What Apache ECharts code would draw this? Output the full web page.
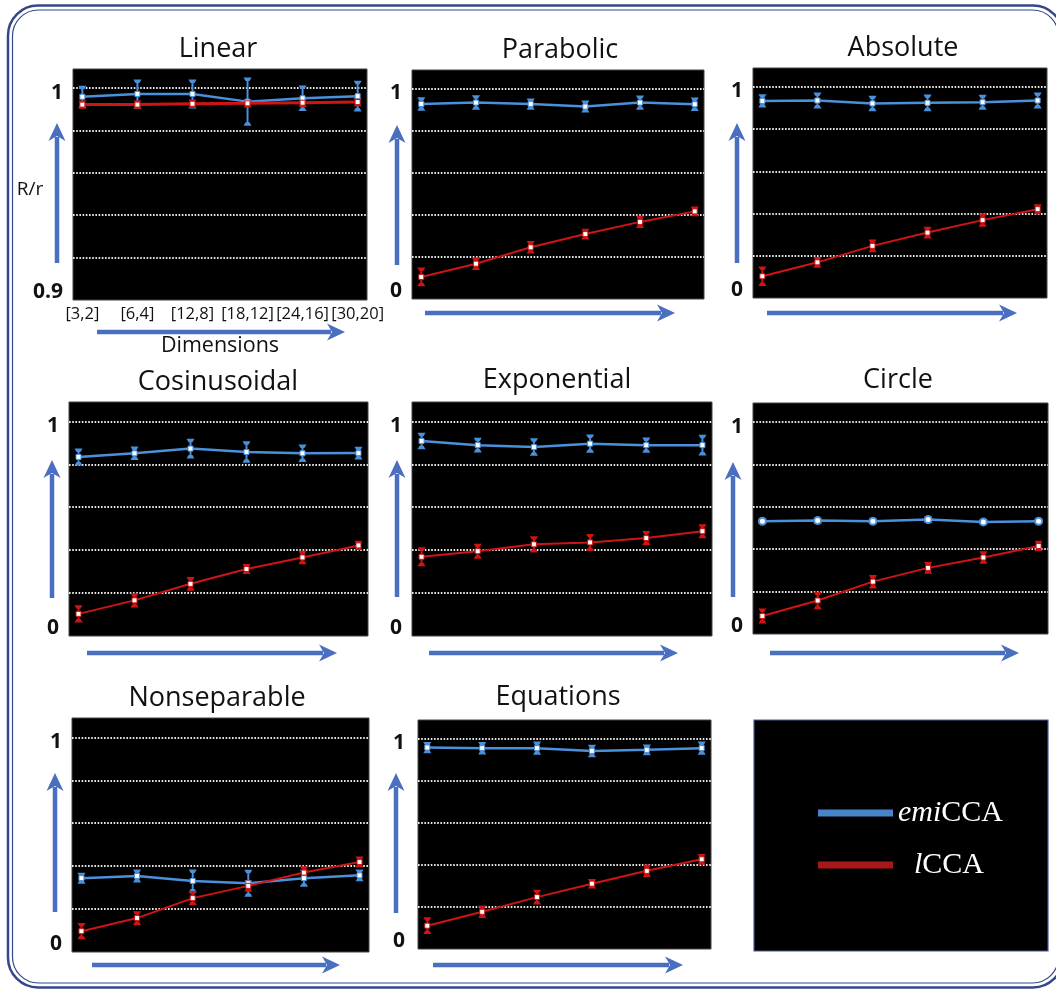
<!DOCTYPE html>
<html>
<head>
<meta charset="utf-8">
<title>emiCCA vs lCCA</title>
<script src="https://cdn.jsdelivr.net/npm/echarts@6/dist/echarts.min.js"></script>
<style>
  html, body { margin: 0; padding: 0; background: #fff; }
  #chart { width: 1056px; height: 990px; }
</style>
</head>
<body>
<div id="chart"></div>
<script>
// panel titles and x categories
var titles = ['Linear', 'Parabolic', 'Absolute', 'Cosinusoidal', 'Exponential', 'Circle', 'Nonseparable', 'Equations'];
var dims = ['[3,2]', '[6,4]', '[12,8]', '[18,12]', '[24,16]', '[30,20]'];
// lowest tick of each panel (Linear is zoomed 0.9 - 1)
var yLow = [0.9, 0, 0, 0, 0, 0, 0, 0];

// emiCCA mean / error
var emiMean = [
  [0.9959, 0.9972, 0.9972, 0.9936, 0.9952, 0.9962],
  [0.928, 0.935, 0.928, 0.916, 0.935, 0.927],
  [0.934, 0.936, 0.922, 0.925, 0.928, 0.936],
  [0.834, 0.851, 0.873, 0.857, 0.851, 0.852],
  [0.908, 0.889, 0.880, 0.896, 0.889, 0.889],
  [0.532, 0.535, 0.532, 0.540, 0.529, 0.532],
  [0.344, 0.354, 0.331, 0.320, 0.344, 0.357],
  [0.959, 0.956, 0.956, 0.943, 0.948, 0.956]
];
var emiErr = [
  [0.0047, 0.0064, 0.0064, 0.0109, 0.0056, 0.0068],
  [0.027, 0.030, 0.022, 0.024, 0.029, 0.027],
  [0.027, 0.033, 0.032, 0.035, 0.031, 0.033],
  [0.035, 0.027, 0.041, 0.045, 0.036, 0.025],
  [0.034, 0.030, 0.036, 0.038, 0.031, 0.044],
  [0.008, 0.009, 0.008, 0.010, 0.009, 0.008],
  [0.021, 0.026, 0.049, 0.058, 0.035, 0.023],
  [0.022, 0.025, 0.027, 0.025, 0.021, 0.027]
];
// lCCA mean / error
var lMean = [
  [0.9922, 0.9922, 0.9926, 0.9928, 0.9931, 0.9934],
  [0.105, 0.168, 0.246, 0.309, 0.367, 0.417],
  [0.103, 0.169, 0.247, 0.310, 0.369, 0.421],
  [0.103, 0.166, 0.243, 0.312, 0.366, 0.422],
  [0.369, 0.395, 0.427, 0.436, 0.456, 0.488],
  [0.085, 0.158, 0.247, 0.312, 0.361, 0.415],
  [0.097, 0.158, 0.251, 0.308, 0.370, 0.419],
  [0.111, 0.177, 0.247, 0.311, 0.372, 0.427]
];
var lErr = [
  [0.0015, 0.0015, 0.0015, 0.0015, 0.0015, 0.0015],
  [0.040, 0.025, 0.025, 0.021, 0.024, 0.018],
  [0.041, 0.021, 0.026, 0.023, 0.027, 0.019],
  [0.035, 0.029, 0.027, 0.019, 0.027, 0.017],
  [0.040, 0.030, 0.033, 0.035, 0.028, 0.028],
  [0.031, 0.037, 0.027, 0.023, 0.025, 0.020],
  [0.033, 0.027, 0.029, 0.023, 0.025, 0.021],
  [0.035, 0.025, 0.030, 0.018, 0.025, 0.021]
];

// layout: black boxes [left, top, width, height]
var boxes = [
  [73, 69, 294, 231], [412, 70, 292, 229], [753, 68, 294, 230],
  [69, 402, 299, 234], [412, 402, 300, 234], [753, 403, 295, 231],
  [72, 718, 297, 234], [418, 720, 293, 229]
];
var titlePos = [[218, 49], [560, 50], [903, 48], [218, 382], [557, 380], [898, 380], [217, 698], [558, 697]];
// [vx, vTip, vBase, hy, hx0, hxTip]
var arrowPos = [
  [57, 123, 263, 332, 97, 345], [397, 125, 265, 313, 425, 675], [737, 123, 263, 313, 767, 1017],
  [52, 460, 598, 653, 87, 337], [397, 460, 597, 653, 429, 678], [733, 462, 597, 653, 770, 1019],
  [55, 773, 912, 965, 92, 340], [396, 773, 913, 965, 433, 683]
];

var BLUE = '#4a90da', RED = '#d01414', ARROW = '#4a6fc0', FRAME = '#34478a';
var FONT = "'Open Sans', 'Liberation Sans', sans-serif";

function errRender(color) {
  return function (params, api) {
    var x = api.value(0), y = api.value(1), e = api.value(2);
    var hi = api.coord([x, y + e]);
    var lo = api.coord([x, y - e]);
    var cx = hi[0];
    return {
      type: 'group',
      children: [
        { type: 'line', shape: { x1: cx, y1: hi[1], x2: cx, y2: lo[1] }, style: { stroke: color, lineWidth: 2 } },
        { type: 'polygon', shape: { points: [[cx - 4, hi[1] - 1], [cx + 4, hi[1] - 1], [cx + 2, hi[1] + 2.5], [cx - 2, hi[1] + 2.5]] }, style: { fill: color } },
        { type: 'polygon', shape: { points: [[cx - 4, lo[1] + 1], [cx + 4, lo[1] + 1], [cx + 2, lo[1] - 2.5], [cx - 2, lo[1] - 2.5]] }, style: { fill: color } }
      ]
    };
  };
}

var grids = [], xAxes = [], yAxes = [], series = [], graphics = [];

// outer double frame + legend box
graphics.push({ type: 'rect', z: 0, shape: { x: 8, y: 5.5, width: 1055, height: 982, r: 30 }, style: { fill: null, stroke: FRAME, lineWidth: 2.5 } });
graphics.push({ type: 'rect', z: 0, shape: { x: 12.5, y: 10, width: 1046, height: 973, r: 26 }, style: { fill: null, stroke: FRAME, lineWidth: 1.2 } });
graphics.push({ type: 'rect', z: 0, shape: { x: 754, y: 720, width: 294, height: 231 }, style: { fill: '#000', stroke: '#4a5a94', lineWidth: 1.2 } });

titles.forEach(function (t, i) {
  var b = boxes[i];
  grids.push({ left: b[0], top: b[1], width: b[2], height: b[3], show: true, backgroundColor: '#000', borderColor: '#444', borderWidth: 1 });
  xAxes.push({
    type: 'value', gridIndex: i, min: -0.17, max: 5.17,
    axisLine: { show: false }, axisTick: { show: false }, splitLine: { show: false },
    axisLabel: {
      show: i === 0, customValues: [0, 1, 2, 3, 4, 5], margin: 6,
      fontFamily: FONT, fontSize: 16.5, color: '#111',
      formatter: function (v) { return dims[Math.round(v)]; }
    }
  });
  var low = yLow[i];
  var step = (1 - low) / 5;
  yAxes.push({
    type: 'value', gridIndex: i, min: low, max: 1 + (1 - low) * 0.09, interval: step,
    axisLine: { show: false }, axisTick: { show: false },
    splitLine: { show: true, showMinLine: false, showMaxLine: false, lineStyle: { color: '#e8e8e8', type: [1.6, 1.6], width: 2 } },
    axisLabel: {
      customValues: [low, 1], margin: i === 7 ? 13 : 10,
      formatter: function (v) { return v > 0.999 ? '{a|1}' : '{b|' + (low === 0 ? '0' : String(low)) + '}'; },
      rich: {
        a: { fontFamily: FONT, fontSize: 21, fontWeight: 'bold', color: '#111', padding: [9, 0, 0, 0] },
        b: { fontFamily: FONT, fontSize: 21, fontWeight: 'bold', color: '#111', padding: [0, 0, 15, 0] }
      }
    }
  });

  series.push({
    type: 'custom', name: 'emi err', xAxisIndex: i, yAxisIndex: i, z: 2,
    renderItem: errRender(BLUE), encode: { x: 0, y: 1 },
    data: emiMean[i].map(function (v, j) { return [j, v, emiErr[i][j]]; })
  });
  series.push({
    type: 'custom', name: 'l err', xAxisIndex: i, yAxisIndex: i, z: 2,
    renderItem: errRender(RED), encode: { x: 0, y: 1 },
    data: lMean[i].map(function (v, j) { return [j, v, lErr[i][j]]; })
  });
  series.push({
    type: 'line', name: 'emiCCA', xAxisIndex: i, yAxisIndex: i, z: 3,
    symbol: i === 5 ? 'circle' : 'rect', symbolSize: i === 5 ? 7 : 5,
    itemStyle: { color: '#fff', borderColor: BLUE, borderWidth: i === 5 ? 2 : 1 },
    lineStyle: { color: BLUE, width: 2.5 },
    data: emiMean[i].map(function (v, j) { return [j, v]; })
  });
  series.push({
    type: 'line', name: 'lCCA', xAxisIndex: i, yAxisIndex: i, z: 4,
    symbol: 'rect', symbolSize: 5,
    itemStyle: { color: '#fff', borderColor: RED, borderWidth: 1 },
    lineStyle: { color: RED, width: i === 0 ? 3 : 2 },
    data: lMean[i].map(function (v, j) { return [j, v]; })
  });

  // title
  graphics.push({ type: 'text', z: 5, x: titlePos[i][0], y: titlePos[i][1],
    style: { text: t, fontFamily: FONT, fontSize: 27, fill: '#111', align: 'center', verticalAlign: 'middle' } });

  // arrows
  var a = arrowPos[i];
  graphics.push({ type: 'line', z: 5, shape: { x1: a[0], y1: a[2], x2: a[0], y2: a[1] + 14 }, style: { stroke: ARROW, lineWidth: 4.5 } });
  graphics.push({ type: 'polygon', z: 5, shape: { points: [[a[0], a[1]], [a[0] + 8.5, a[1] + 18], [a[0], a[1] + 13], [a[0] - 8.5, a[1] + 18]] }, style: { fill: ARROW } });
  graphics.push({ type: 'line', z: 5, shape: { x1: a[4], y1: a[3], x2: a[5] - 14, y2: a[3] }, style: { stroke: ARROW, lineWidth: 4.5 } });
  graphics.push({ type: 'polygon', z: 5, shape: { points: [[a[5], a[3]], [a[5] - 18, a[3] - 8.5], [a[5] - 13, a[3]], [a[5] - 18, a[3] + 8.5]] }, style: { fill: ARROW } });
});

// axis names on first panel
graphics.push({ type: 'text', z: 5, x: 30, y: 190, style: { text: 'R/r', fontFamily: FONT, fontSize: 19, fill: '#111', align: 'center', verticalAlign: 'middle' } });
graphics.push({ type: 'text', z: 5, x: 220, y: 346, style: { text: 'Dimensions', fontFamily: FONT, fontSize: 21.5, fill: '#111', align: 'center', verticalAlign: 'middle' } });

var chart = echarts.init(document.getElementById('chart'));
chart.setOption({
  animation: false,
  backgroundColor: '#fff',
  grid: grids,
  xAxis: xAxes,
  yAxis: yAxes,
  legend: {
    left: 813, top: 793, orient: 'vertical', itemGap: 22,
    itemWidth: 75, itemHeight: 7, icon: 'rect', selectedMode: false,
    data: [
      { name: 'emiCCA', itemStyle: { color: '#4a84c8', borderWidth: 0 } },
      { name: 'lCCA', itemStyle: { color: '#a81818', borderWidth: 0 } }
    ],
    formatter: function (n) { return n === 'emiCCA' ? '{i|emi}{n|CCA}' : '{s|}{i|l}{n|CCA}'; },
    textStyle: {
      color: '#fff',
      rich: {
        i: { fontFamily: "'Liberation Serif', serif", fontStyle: 'italic', fontSize: 30, color: '#fff', lineHeight: 32 },
        n: { fontFamily: "'Liberation Serif', serif", fontSize: 30, color: '#fff', lineHeight: 32 },
        s: { width: 16, lineHeight: 32 }
      }
    }
  },
  graphic: graphics,
  series: series
});
</script>
</body>
</html>
